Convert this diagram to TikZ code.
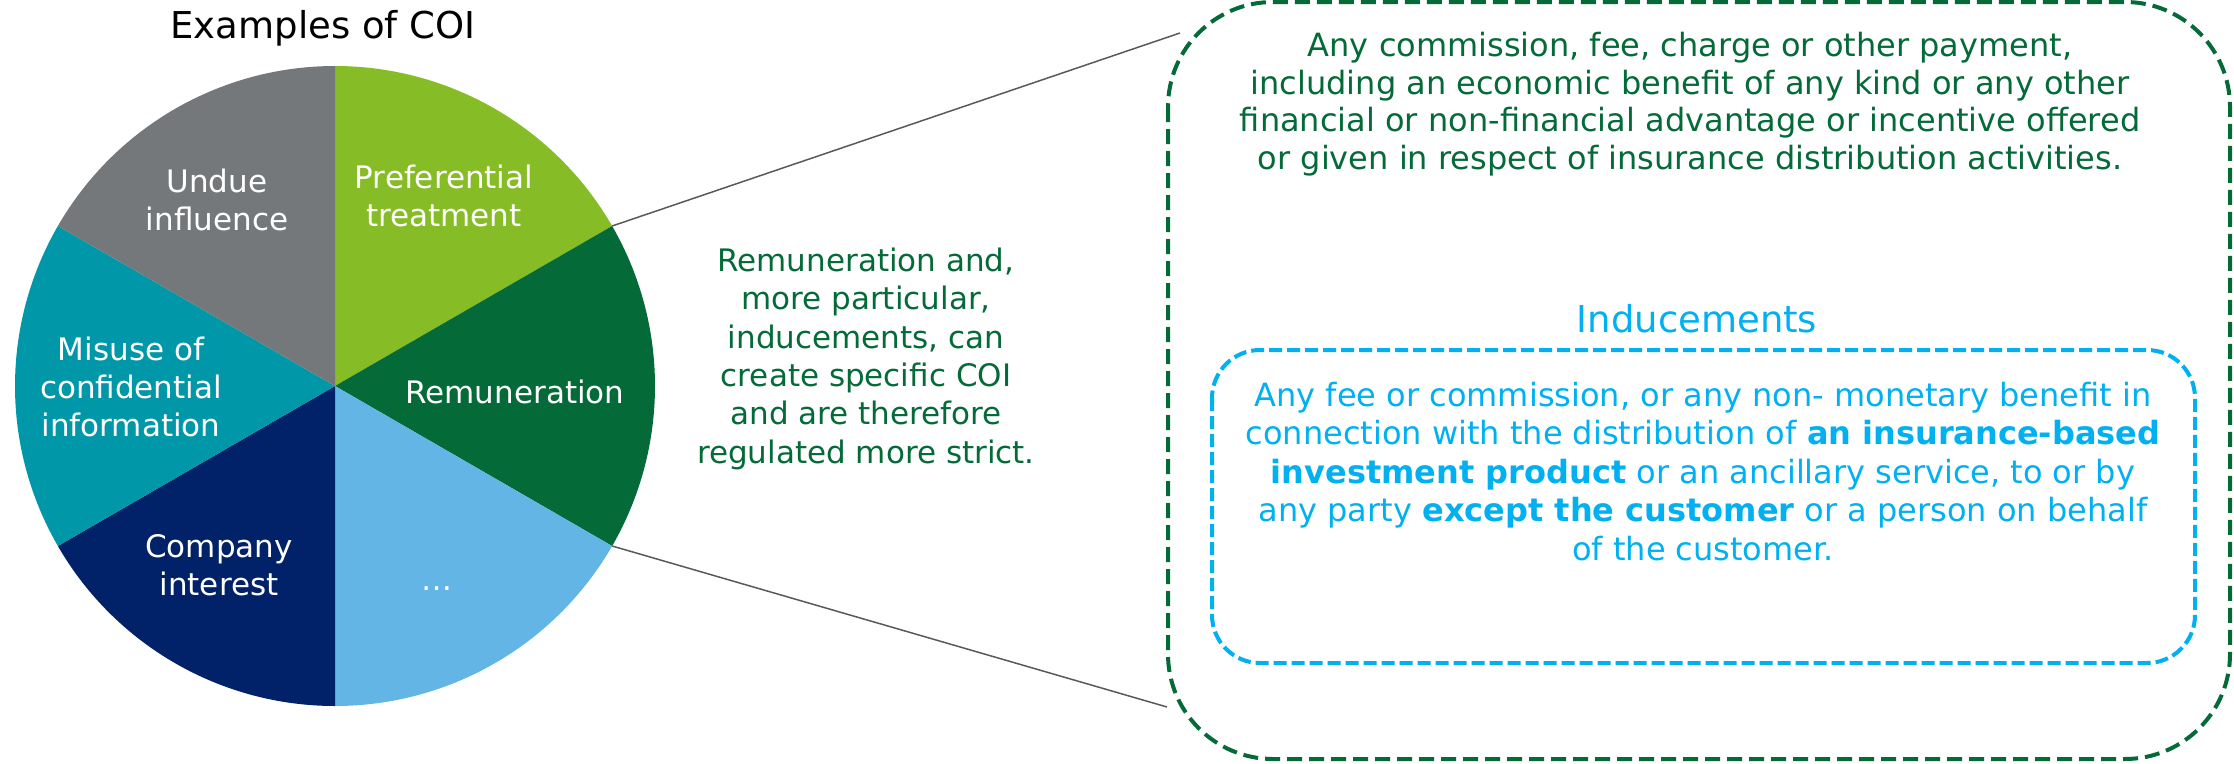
\documentclass[tikz,border=0pt]{standalone}
\usepackage{fontspec}
\setmainfont{DejaVu Sans}
\usetikzlibrary{calc}
\definecolor{coiGreenLight}{HTML}{86BC25}
\definecolor{coiGreenDark}{HTML}{046A38}
\definecolor{coiBlueLight}{HTML}{62B5E5}
\definecolor{coiNavy}{HTML}{012169}
\definecolor{coiTeal}{HTML}{0097A9}
\definecolor{coiGrey}{HTML}{75787B}
\definecolor{coiCyan}{HTML}{00B0F0}
\definecolor{coiLine}{HTML}{595959}
\begin{document}
\begin{tikzpicture}[x=1pt,y=1pt,
  % multi-line nodes are placed by the baseline of their last line
  slicelabel/.style={text=white, align=center, anchor=base, inner sep=0pt,
    font=\fontsize{31}{38}\selectfont},
  bodytext/.style={align=center, anchor=base, inner sep=0pt},
  outerbox/.style={draw=coiGreenDark, line width=4pt, rounded corners=105pt,
    dash pattern=on 15pt off 7pt},
  innerbox/.style={draw=coiCyan, line width=4pt, rounded corners=48pt,
    dash pattern=on 13pt off 5pt},
  zoomline/.style={draw=coiLine, line width=1.5pt}]
\useasboundingbox (0,0) rectangle (2234,-763);

% pie of six equal slices
\coordinate (c) at (335,-386);
\fill[coiGreenLight] (c) -- ++(90:320) arc[start angle=90, end angle=30, radius=320] -- cycle;
\fill[coiGreenDark]  (c) -- ++(30:320) arc[start angle=30, end angle=-30, radius=320] -- cycle;
\fill[coiBlueLight]  (c) -- ++(-30:320) arc[start angle=-30, end angle=-90, radius=320] -- cycle;
\fill[coiNavy]       (c) -- ++(-90:320) arc[start angle=-90, end angle=-150, radius=320] -- cycle;
\fill[coiTeal]       (c) -- ++(210:320) arc[start angle=210, end angle=150, radius=320] -- cycle;
\fill[coiGrey]       (c) -- ++(150:320) arc[start angle=150, end angle=90, radius=320] -- cycle;

\node[anchor=base, inner sep=0pt, font=\fontsize{37}{44}\selectfont] (title) at (323,-38) {Examples of COI};

\node[slicelabel] (pref)  at (444,-226) {Preferential\\treatment};
\node[slicelabel] (undue) at (217,-230) {Undue\\influence};
\node[slicelabel] (remu)  at (515,-403) {Remuneration};
\node[slicelabel] (misuse) at (131,-436) {Misuse of\\confidential\\information};
\node[slicelabel] (comp)  at (219,-595) {Company\\interest};
\node[slicelabel] (more)  at (437,-590) {\dots};

% explanation between pie and definition box
\node[bodytext, text=coiGreenDark, font=\fontsize{31}{38.3}\selectfont] (why) at (866,-463)
  {Remuneration and,\\more particular,\\inducements, can\\create specific COI\\and are therefore\\regulated more strict.};

% definition of remuneration
\draw[outerbox] (1168,-2) rectangle (2230,-759);
\node[bodytext, text=coiGreenDark, font=\fontsize{32}{37.5}\selectfont] (remdef) at (1690,-169)
  {Any commission, fee, charge or other payment,\\including an economic benefit of any kind or any other\\financial or non-financial advantage or incentive offered\\or given in respect of insurance distribution activities.};

% definition of inducements
\node[anchor=base, inner sep=0pt, text=coiCyan, font=\fontsize{37}{44}\selectfont] (indtitle) at (1697,-332) {Inducements};
\draw[innerbox] (1212,-350) rectangle (2195,-663);
\node[bodytext, text=coiCyan, font=\fontsize{32}{38.5}\selectfont] (inddef) at (1703,-560)
  {Any fee or commission, or any non- monetary benefit in\\connection with the distribution of \textbf{an insurance-based}\\\textbf{investment product} or an ancillary service, to or by\\any party \textbf{except the customer} or a person on behalf\\of the customer.};

% zoom lines from the remuneration slice to the definition box
\coordinate (p1) at ($(c)+(30:320)$);
\coordinate (p2) at ($(c)+(-30:320)$);
\coordinate (e1) at (1180,-33);
\coordinate (e2) at (1167,-707);
\draw[zoomline] (p1) -- (e1);
\draw[zoomline] (p2) -- (e2);
\end{tikzpicture}
\end{document}
